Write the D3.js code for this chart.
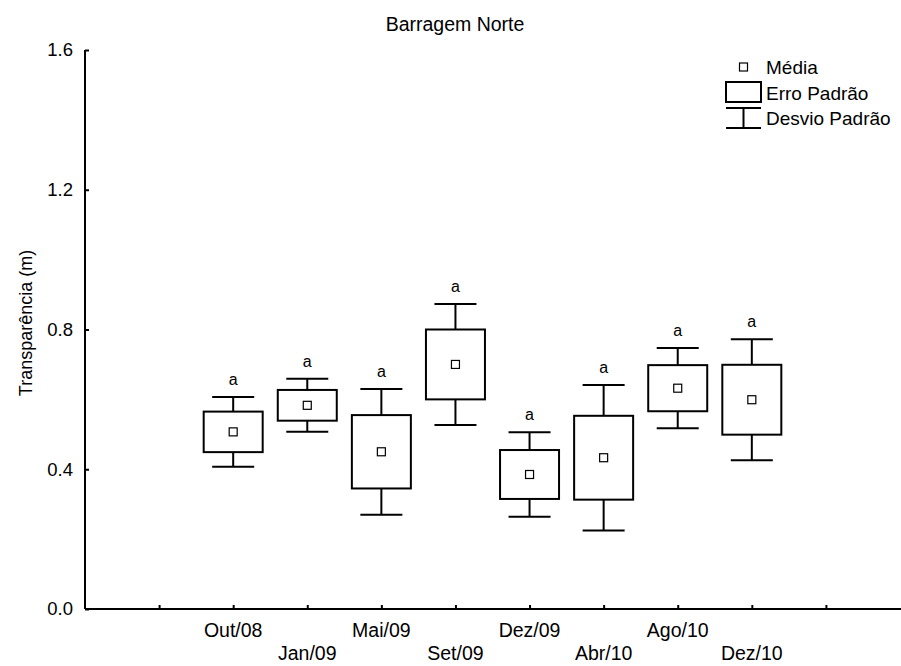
<!DOCTYPE html>
<html>
<head>
<meta charset="utf-8">
<script src="https://cdn.jsdelivr.net/npm/d3@7"></script>
<style>
  html, body { margin: 0; padding: 0; background: #fff; }
  svg { display: block; font-family: "Liberation Sans", Arial, Helvetica, sans-serif; }
</style>
</head>
<body>
<svg id="chart" width="901" height="666"></svg>
<script>
// Transparency (m) per sampling campaign at Barragem Norte
const categories = ["Out/08", "Jan/09", "Mai/09", "Set/09", "Dez/09", "Abr/10", "Ago/10", "Dez/10"];
const means      = [0.507, 0.583, 0.450, 0.700, 0.385, 0.433, 0.632, 0.599];
const stdErrors  = [0.058, 0.044, 0.105, 0.100, 0.070, 0.120, 0.066, 0.100];
const stdDevs    = [0.100, 0.076, 0.180, 0.173, 0.121, 0.208, 0.115, 0.173];
const groupLetters = ["a", "a", "a", "a", "a", "a", "a", "a"];
const yTicks = [0.0, 0.4, 0.8, 1.2, 1.6];
const legendLabels = ["Média", "Erro Padrão", "Desvio Padrão"];

const svg = d3.select("#chart");
const plotLeft = 85, plotRight = 900, plotTop = 50, plotBottom = 609;

// slot positions: categories sit on slots 2..9, ticks on 1..10
const x = d3.scaleLinear().domain([0, 11]).range([plotLeft, plotRight]);
const y = d3.scaleLinear().domain([0, 1.6]).range([plotBottom, plotTop]);

const boxW = 59, capW = 42, markerS = 8;

// axes
const yAxis = d3.axisLeft(y).tickValues(yTicks).tickSize(-4).tickPadding(12)
  .tickFormat(d3.format(".1f"));
const gy = svg.append("g").attr("transform", `translate(${plotLeft},0)`).call(yAxis);
gy.select(".domain").attr("stroke-width", 2).attr("d", `M0,${plotTop}V${plotBottom}`);
gy.selectAll(".tick line").attr("stroke-width", 2);
gy.selectAll(".tick text").attr("font-size", 18.5).attr("fill", "#000")
  .attr("font-family", "Liberation Sans, Arial, sans-serif");

const xAxis = d3.axisBottom(x).tickValues(d3.range(1, 11)).tickSize(-4).tickFormat("");
const gx = svg.append("g").attr("transform", `translate(0,${plotBottom})`).call(xAxis);
gx.select(".domain").attr("stroke-width", 2).attr("d", `M${plotLeft},0H901`);
gx.selectAll(".tick line").attr("stroke-width", 2);

// staggered category labels
svg.append("g").selectAll("text").data(categories).join("text")
  .attr("x", (d, i) => x(i + 2))
  .attr("y", (d, i) => i % 2 === 0 ? 637 : 660)
  .attr("text-anchor", "middle")
  .attr("font-size", 19.5)
  .text(d => d);

// title and axis label
svg.append("text").attr("x", 455).attr("y", 31).attr("text-anchor", "middle")
  .attr("font-size", 19.5).text("Barragem Norte");
svg.append("text").attr("transform", "translate(32,323) rotate(-90)")
  .attr("text-anchor", "middle").attr("font-size", 18).text("Transparência (m)");

// boxes: mean ± SE box, mean ± SD whiskers
const g = svg.append("g").attr("fill", "none").attr("stroke", "#000");
categories.forEach((c, i) => {
  const cx = x(i + 2), m = means[i], se = stdErrors[i], sd = stdDevs[i];
  const grp = g.append("g");
  // whiskers
  grp.append("line").attr("x1", cx).attr("x2", cx).attr("y1", y(m + sd)).attr("y2", y(m + se)).attr("stroke-width", 2);
  grp.append("line").attr("x1", cx).attr("x2", cx).attr("y1", y(m - se)).attr("y2", y(m - sd)).attr("stroke-width", 2);
  grp.append("line").attr("x1", cx - capW / 2).attr("x2", cx + capW / 2).attr("y1", y(m + sd)).attr("y2", y(m + sd)).attr("stroke-width", 2);
  grp.append("line").attr("x1", cx - capW / 2).attr("x2", cx + capW / 2).attr("y1", y(m - sd)).attr("y2", y(m - sd)).attr("stroke-width", 2);
  // SE box
  grp.append("rect").attr("x", cx - boxW / 2).attr("y", y(m + se))
    .attr("width", boxW).attr("height", y(m - se) - y(m + se)).attr("stroke-width", 2);
  // mean marker
  grp.append("rect").attr("x", cx - markerS / 2).attr("y", y(m) - markerS / 2)
    .attr("width", markerS).attr("height", markerS).attr("stroke-width", 1.2).attr("fill", "#fff");
  // group letter
  svg.append("text").attr("x", cx).attr("y", y(m + sd) - 12).attr("text-anchor", "middle")
    .attr("font-size", 16).text(groupLetters[i]);
});

// legend
const lg = svg.append("g");
const lx = 726, lw = 35, tx = 766;
lg.append("rect").attr("x", lx + lw / 2 - markerS / 2).attr("y", 67 - markerS / 2)
  .attr("width", markerS).attr("height", markerS).attr("fill", "#fff").attr("stroke", "#000").attr("stroke-width", 1.2);
lg.append("rect").attr("x", lx).attr("y", 82).attr("width", lw).attr("height", 20)
  .attr("fill", "none").attr("stroke", "#000").attr("stroke-width", 2);
lg.append("line").attr("x1", lx).attr("x2", lx + lw).attr("y1", 108).attr("y2", 108).attr("stroke", "#000").attr("stroke-width", 2);
lg.append("line").attr("x1", lx).attr("x2", lx + lw).attr("y1", 128).attr("y2", 128).attr("stroke", "#000").attr("stroke-width", 2);
lg.append("line").attr("x1", lx + lw / 2).attr("x2", lx + lw / 2).attr("y1", 108).attr("y2", 128).attr("stroke", "#000").attr("stroke-width", 2);
lg.selectAll("text.lbl").data(legendLabels).join("text").attr("class", "lbl")
  .attr("x", tx).attr("y", (d, i) => [74, 100, 125][i])
  .attr("font-size", 19).text(d => d);
</script>
</body>
</html>
